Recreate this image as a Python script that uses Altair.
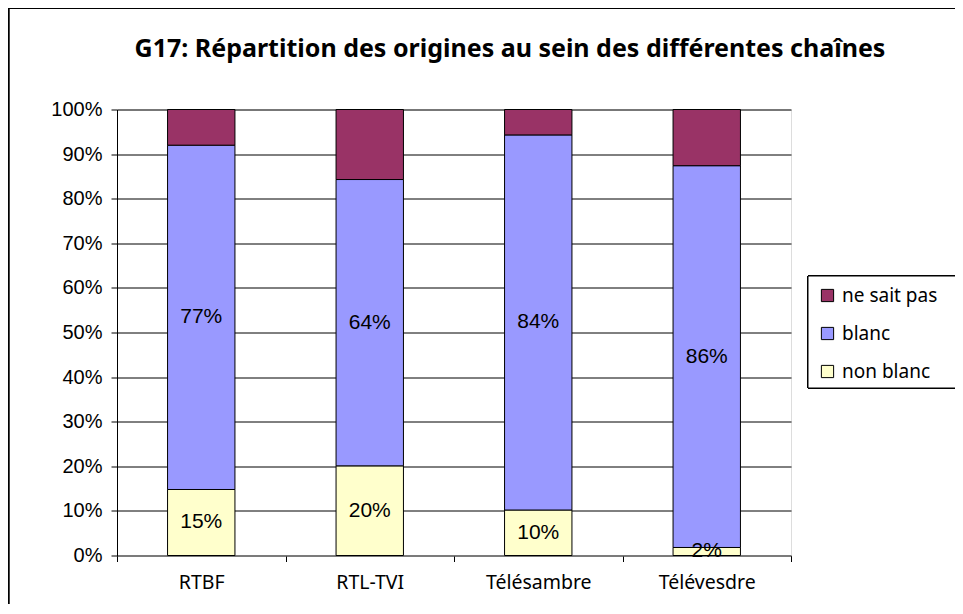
import altair as alt
import pandas as pd

chaines = ["RTBF", "RTL-TVI", "Télésambre", "Télévesdre"]
non_blanc = [0.148, 0.201, 0.102, 0.018]
blanc = [0.772, 0.642, 0.841, 0.856]
ne_sait_pas = [0.080, 0.157, 0.057, 0.126]
series = ["ne sait pas", "blanc", "non blanc"]
colors = ["#993366", "#9999FF", "#FFFFCC"]
title_text = "G17: Répartition des origines au sein des différentes chaînes"

rows = []
for i, c in enumerate(chaines):
    rows.append({"chaine": c, "origine": "non blanc", "ord": 0, "value": non_blanc[i]})
    rows.append({"chaine": c, "origine": "blanc", "ord": 1, "value": blanc[i]})
    rows.append({"chaine": c, "origine": "ne sait pas", "ord": 2, "value": ne_sait_pas[i]})
df = pd.DataFrame(rows)

W, H = 674, 446
LX, LY = 691, 166.5

base = alt.Chart(df).transform_stack(
    stack="value", as_=["y0", "y1"], groupby=["chaine"], sort=[{"field": "ord", "order": "ascending"}]
).transform_calculate(mid="(datum.y0 + datum.y1) / 2")

xscale = alt.Scale(paddingInner=0, paddingOuter=0)

xenc = alt.X(
    "chaine:N", sort=chaines, title=None, scale=xscale,
    axis=alt.Axis(labelAngle=0, labelFont="Noto Sans", labelFontSize=19.5, labelColor="black",
                  labelPadding=12, tickSize=6, tickColor="black", tickBand="extent",
                  domainColor="#808080", grid=False),
)

bars = base.mark_bar(stroke="black", strokeWidth=1, width=alt.RelativeBandSize(0.4)).encode(
    x=xenc,
    y=alt.Y("y0:Q", title=None,
            scale=alt.Scale(domain=[0, 1], nice=False),
            axis=alt.Axis(values=[i / 10 for i in range(11)], format=".0%",
                          labelFont="Liberation Sans", labelFontSize=20, labelColor="black",
                          labelPadding=9, tickSize=6, tickColor="black", domainColor="black",
                          grid=True, gridColor="black", gridWidth=1)),
    y2="y1:Q",
    color=alt.Color("origine:N", scale=alt.Scale(domain=series, range=colors),
                    legend=alt.Legend(title=None, orient="none", legendX=LX, legendY=LY,
                                      symbolType="square", symbolSize=150, symbolStrokeColor="black",
                                      symbolStrokeWidth=1, labelFont="Noto Sans", labelFontSize=19,
                                      labelColor="black", labelOffset=5, rowPadding=18,
                                      padding=10)),
)

labels = base.transform_filter("datum.origine != 'ne sait pas'").mark_text(
    font="Liberation Sans", fontSize=21, color="black", baseline="middle"
).encode(
    x=alt.X("chaine:N", sort=chaines, scale=xscale),
    y=alt.Y("mid:Q"),
    text=alt.Text("value:Q", format=".0%"),
)

frame = alt.Chart(df).mark_rect(fill=None, stroke="black", strokeWidth=1.2, clip=False).encode(
    x=alt.value(-108.5), x2=alt.value(W + 400), y=alt.value(-101), y2=alt.value(H + 200)
)

legend_box = alt.Chart(df).mark_rect(fill="white", stroke="black", strokeWidth=1, clip=False).encode(
    x=alt.value(LX), x2=alt.value(W + 400), y=alt.value(LY), y2=alt.value(LY + 112)
)

title = alt.Chart(pd.DataFrame({"t": [title_text]})).mark_text(
    font="Noto Sans", fontSize=25, fontWeight="bold", color="black", align="center", baseline="alphabetic"
).encode(
    text="t:N", x=alt.value(W / 2 + 56), y=alt.value(-53)
)

chart = alt.layer(frame, legend_box, bars, labels, title).properties(
    width=W, height=H,
    autosize=alt.AutoSizeParams(type="none"),
    padding={"left": 109, "top": 101.5, "right": 164, "bottom": 48},
).configure_view(stroke="#808080", strokeWidth=1).configure(background="white")

chart.save("out.html", embed_options={"renderer": "svg", "actions": False})
